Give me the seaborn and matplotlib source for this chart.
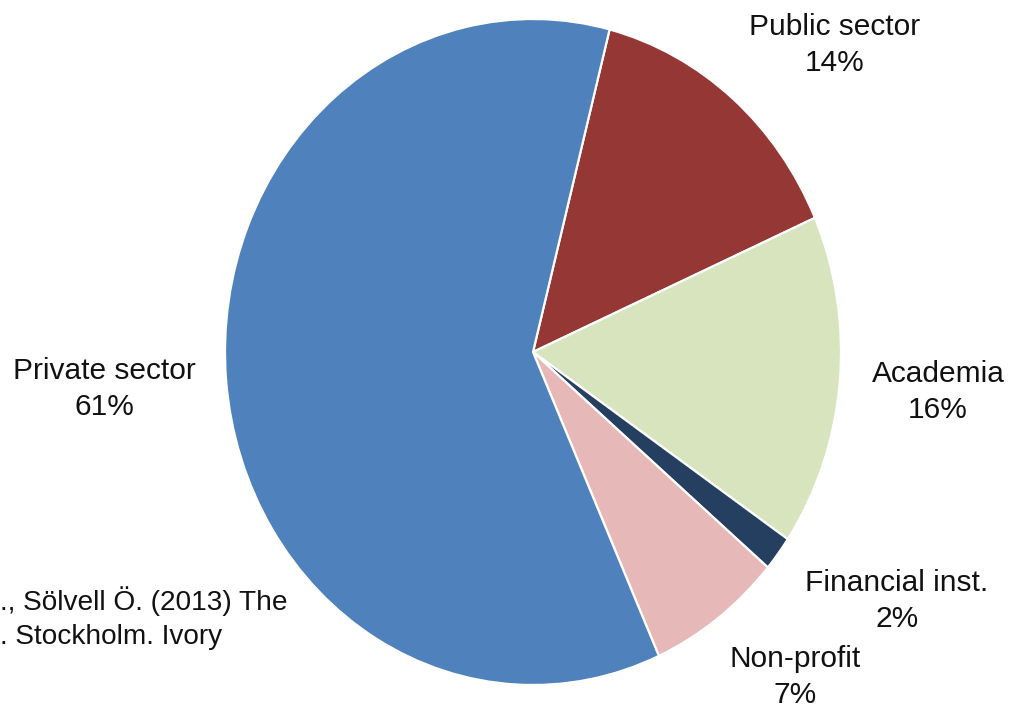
import matplotlib
matplotlib.use("Agg")
import matplotlib.pyplot as plt
import seaborn as sns

# ---- data ----
categories = ["Public sector", "Academia", "Financial inst.", "Non-profit", "Private sector"]
shares = [14.4, 16.1, 1.7, 7.1, 60.7]
citation_lines = ["., Sölvell Ö. (2013) The", ". Stockholm. Ivory"]

# ---- style ----
sns.set_theme(style="white")
plt.rcParams["font.family"] = ["Liberation Sans", "DejaVu Sans"]
palette = sns.color_palette(["#4F81BD", "#953735", "#D7E4BD", "#243F60", "#E6B9B8"])
colors = [palette[1], palette[2], palette[3], palette[4], palette[0]]

W, H = 1011, 709
fig = plt.figure(figsize=(W / 100, H / 100), dpi=100)
ax = fig.add_axes([0, 0, 1, 1])

cx, cy = 533, 352      # pie centre in pixels
rx, ry = 308, 333      # horizontal / vertical radius in pixels

ax.pie(shares, colors=colors, startangle=75.6, counterclock=False,
       wedgeprops=dict(edgecolor="white", linewidth=1.6), radius=1.0, center=(0, 0),
       frame=False)
ax.set_aspect("auto")
ax.set_xlim((0 - cx) / rx, (W - cx) / rx)
ax.set_ylim(-(H - cy) / ry, cy / ry)
ax.axis("off")


def px(x, y):
    return (x - cx) / rx, -(y - cy) / ry


label_pos = {
    "Public sector": (835, 45),
    "Academia": (938, 392),
    "Financial inst.": (897, 601),
    "Non-profit": (795, 677),
    "Private sector": (104, 389),
}
total = sum(shares)
for cat, val in zip(categories, shares):
    x, y = px(*label_pos[cat])
    ax.text(x, y, f"{cat}\n{round(val / total * 100)}%", ha="center", va="center",
            fontsize=21.5, color="#111111", linespacing=1.36)

for i, line in enumerate(citation_lines):
    x, y = px(0, 601 + i * 36)
    ax.text(x, y, line, ha="left", va="center", fontsize=20.2, color="#111111")

fig.savefig("out.png", dpi=100)
